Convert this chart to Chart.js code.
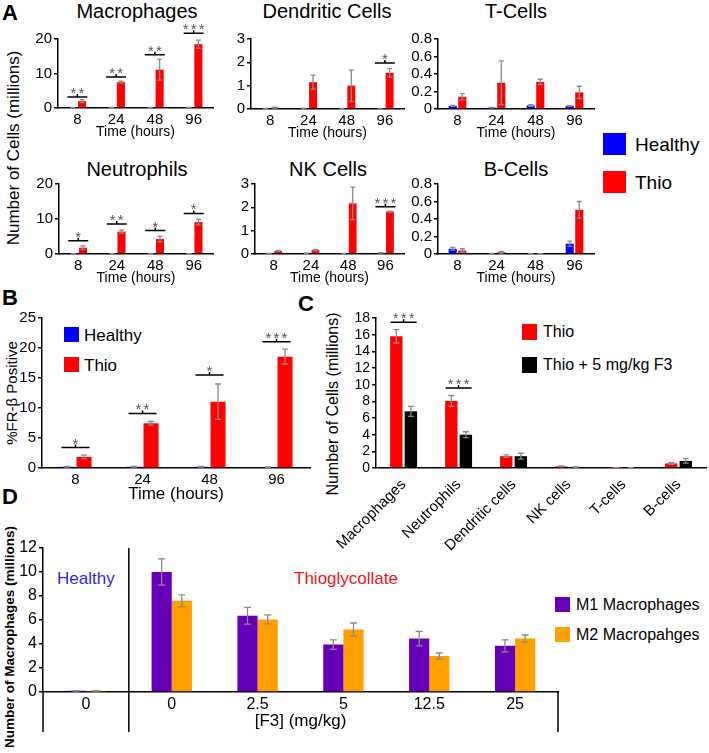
<!DOCTYPE html>
<html>
<head>
<meta charset="utf-8">
<script src="https://cdn.jsdelivr.net/npm/chart.js@4.4.0/dist/chart.umd.min.js"></script>
<style>
body { margin: 0; background: #fff; font-family: "Liberation Sans", Arial, sans-serif; }
#fig { position: relative; width: 709px; height: 753px; overflow: hidden; }
#fig canvas { position: absolute; }
.t { position: absolute; white-space: nowrap; line-height: 1; color: #000; }
.c { transform: translate(-50%, -50%); }
.l { transform: translateY(-50%); }
.v { transform: translate(-50%, -50%) rotate(-90deg); }
.b { font-weight: bold; }
.sq { position: absolute; }
</style>
</head>
<body>
<div id="fig">
  <div class="t b" style="left:2px;top:2px;font-size:22px">A</div>
  <div class="t c" style="left:137px;top:11px;font-size:20px">Macrophages</div>
  <div class="t c" style="left:327px;top:11px;font-size:20px">Dendritic Cells</div>
  <div class="t c" style="left:516px;top:11px;font-size:20px">T-Cells</div>
  <div class="t c" style="left:137px;top:169px;font-size:20px">Neutrophils</div>
  <div class="t c" style="left:328px;top:169px;font-size:20px">NK Cells</div>
  <div class="t c" style="left:516px;top:169px;font-size:20px">B-Cells</div>
  <div class="t v" style="left:13px;top:148px;font-size:17px">Number of Cells (millions)</div>
  <div class="sq" style="left:603px;top:133px;width:23px;height:22px;background:#0000ff"></div>
  <div class="t l" style="left:635px;top:144px;font-size:19px">Healthy</div>
  <div class="sq" style="left:603px;top:171px;width:23px;height:22px;background:#ff0000"></div>
  <div class="t l" style="left:635px;top:182px;font-size:19px">Thio</div>

  <div class="t b" style="left:2px;top:287px;font-size:22px">B</div>
  <div class="t v" style="left:11px;top:393px;font-size:15px">%FR-β Positive</div>
  <div class="sq" style="left:64px;top:327px;width:15px;height:15px;background:#0000ff"></div>
  <div class="t l" style="left:84px;top:335px;font-size:17px">Healthy</div>
  <div class="sq" style="left:64px;top:357px;width:15px;height:15px;background:#ff0000"></div>
  <div class="t l" style="left:84px;top:365px;font-size:17px">Thio</div>

  <div class="t b" style="left:298px;top:293px;font-size:22px">C</div>
  <div class="t v" style="left:333px;top:404px;font-size:16px">Number of Cells (millions)</div>
  <div class="sq" style="left:522px;top:324px;width:15px;height:16px;background:#ff0000"></div>
  <div class="t l" style="left:543px;top:332px;font-size:16px">Thio</div>
  <div class="sq" style="left:522px;top:357px;width:15px;height:16px;background:#000"></div>
  <div class="t l" style="left:543px;top:365px;font-size:16px">Thio + 5 mg/kg F3</div>

  <div class="t b" style="left:2px;top:486px;font-size:22px">D</div>
  <div class="t v b" style="left:10px;top:637px;font-size:13.5px">Number of Macrophages (millions)</div>
  <div class="t l" style="left:57px;top:578px;font-size:17px;color:#2a2ae6">Healthy</div>
  <div class="t c" style="left:346px;top:578px;font-size:17px;color:#e8141b">Thioglycollate</div>
  <div class="sq" style="left:555px;top:597px;width:15px;height:15px;background:#6600b8"></div>
  <div class="t l" style="left:576px;top:605px;font-size:16px">M1 Macrophages</div>
  <div class="sq" style="left:555px;top:627px;width:15px;height:15px;background:#ff9f00"></div>
  <div class="t l" style="left:576px;top:635px;font-size:16px">M2 Macropahges</div>
</div>
<script>
const timeLabels = ["8", "24", "48", "96"];

// A - macrophages
const macHealthy = [0.1, 0.1, 0.1, 0.1];
const macHealthyErr = [0.05, 0.05, 0.05, 0.05];
const macThio = [2.0, 7.5, 11.1, 18.5];
const macThioErr = [0.4, 0.3, 3.0, 1.2];
const macSig = [3.2, 9.0, 15.4, 21.7];
const macStars = ["**", "**", "**", "***"];

// A - dendritic cells
const dcHealthy = [0.02, 0.03, 0.02, 0.02];
const dcHealthyErr = [0.005, 0.005, 0.005, 0.005];
const dcThio = [0.06, 1.15, 1.0, 1.55];
const dcThioErr = [0.02, 0.3, 0.67, 0.18];
const dcSig = [null, null, null, 1.97];
const dcStars = ["", "", "", "*"];

// A - T cells
const tHealthy = [0.035, 0.015, 0.04, 0.035];
const tHealthyErr = [0.005, 0.003, 0.01, 0.004];
const tThio = [0.14, 0.3, 0.31, 0.19];
const tThioErr = [0.035, 0.25, 0.03, 0.07];

// A - neutrophils
const neuHealthy = [0.05, 0.05, 0.05, 0.05];
const neuHealthyErr = [0.02, 0.02, 0.02, 0.02];
const neuThio = [1.8, 6.4, 4.3, 9.1];
const neuThioErr = [0.5, 0.4, 0.8, 0.8];
const neuSig = [3.8, 8.6, 6.7, 11.6];
const neuStars = ["*", "**", "*", "*"];

// A - NK cells
const nkHealthy = [0.02, 0.04, 0.02, 0.05];
const nkHealthyErr = [0.005, 0.01, 0.005, 0.01];
const nkThio = [0.13, 0.17, 2.17, 1.82];
const nkThioErr = [0.02, 0.03, 0.7, 0.02];
const nkSig = [null, null, null, 2.03];
const nkStars = ["", "", "", "***"];

// A - B cells
const bHealthy = [0.06, 0.005, 0.003, 0.118];
const bHealthyErr = [0.015, 0.002, 0.002, 0.03];
const bThio = [0.04, 0.02, 0.003, 0.505];
const bThioErr = [0.02, 0.01, 0.002, 0.095];

// B - %FR-beta positive
const frHealthy = [0.2, 0.2, 0.2, 0.15];
const frHealthyErr = [0.05, 0.05, 0.05, 0.05];
const frThio = [1.85, 7.45, 11.05, 18.55];
const frThioErr = [0.3, 0.3, 2.95, 1.25];
const frSig = [3.4, 9.1, 15.5, 21.05];
const frStars = ["*", "**", "*", "***"];

// C - F3 treatment
const cellTypes = ["Macrophages", "Neutrophils", "Dendritic cells", "NK cells", "T-cells", "B-cells"];
const cThio = [15.8, 8.05, 1.42, 0.2, 0.03, 0.55];
const cThioErr = [0.8, 0.65, 0.15, 0.04, 0.01, 0.1];
const cF3 = [6.8, 4.0, 1.42, 0.12, 0.02, 0.85];
const cF3Err = [0.6, 0.35, 0.35, 0.03, 0.01, 0.27];
const cSig = [17.5, 9.6, null, null, null, null];
const cStars = ["***", "***", "", "", "", ""];

// D - M1 / M2 macrophages
const doseLabels = ["0", "0", "2.5", "5", "12.5", "25"];
const m1 = [0.1, 10.0, 6.35, 3.95, 4.45, 3.85];
const m1Err = [0.02, 1.1, 0.7, 0.4, 0.6, 0.5];
const m2 = [0.1, 7.6, 6.05, 5.2, 3.0, 4.45];
const m2Err = [0.03, 0.5, 0.38, 0.55, 0.25, 0.3];

const BLUE = "#0000ff", RED = "#ff0000", BLACK = "#000000", PURPLE = "#6600b8", ORANGE = "#ff9f00";
const FONT = '"Liberation Sans", Arial, sans-serif';

// error bars + significance brackets
const marks = {
  id: "marks",
  afterDatasetsDraw(chart, args, opts) {
    const ctx = chart.ctx, xs = chart.scales.x, ys = chart.scales.y;
    ctx.save();
    ctx.strokeStyle = "#8a8a8a";
    ctx.lineWidth = 1.3;
    chart.data.datasets.forEach((ds, di) => {
      if (!ds.err) return;
      chart.getDatasetMeta(di).data.forEach((bar, i) => {
        const e = ds.err[i];
        if (!e) return;
        const v = ds.data[i];
        const top = ys.getPixelForValue(v + e);
        const bot = ys.getPixelForValue(Math.max(v - e, 0));
        ctx.beginPath();
        ctx.moveTo(bar.x, top); ctx.lineTo(bar.x, bot);
        ctx.moveTo(bar.x - opts.cap, top); ctx.lineTo(bar.x + opts.cap, top);
        ctx.moveTo(bar.x - opts.cap, bot); ctx.lineTo(bar.x + opts.cap, bot);
        ctx.stroke();
      });
    });
    (opts.sig || []).forEach((lvl, i) => {
      if (lvl == null) return;
      const cx = xs.getPixelForValue(i), py = ys.getPixelForValue(lvl);
      ctx.strokeStyle = "#000";
      ctx.lineWidth = 1.5;
      ctx.beginPath();
      ctx.moveTo(cx - opts.half, py); ctx.lineTo(cx + opts.half, py);
      ctx.moveTo(cx, py); ctx.lineTo(cx, py - 3);
      ctx.stroke();
      const s = opts.stars[i];
      ctx.fillStyle = "#555";
      ctx.font = opts.starSize + "px " + FONT;
      ctx.textAlign = "center";
      ctx.textBaseline = "alphabetic";
      for (let k = 0; k < s.length; k++) {
        ctx.fillText("*", cx + (k - (s.length - 1) / 2) * opts.starGap, py + 1);
      }
    });
    ctx.restore();
  }
};

// extra frame lines for panel D
const split = {
  id: "split",
  afterDraw(chart, args, opts) {
    if (!opts.drop) return;
    const ctx = chart.ctx, xs = chart.scales.x, ys = chart.scales.y;
    const xd = (xs.getPixelForValue(0) + xs.getPixelForValue(1)) / 2;
    const bottom = ys.bottom + opts.drop;
    ctx.save();
    ctx.strokeStyle = "#000";
    ctx.lineWidth = 1.5;
    ctx.beginPath();
    ctx.moveTo(xd, ys.top); ctx.lineTo(xd, bottom);
    ctx.moveTo(xs.left, ys.bottom); ctx.lineTo(xs.left, bottom);
    ctx.moveTo(xs.right, ys.bottom); ctx.lineTo(xs.right, bottom);
    ctx.stroke();
    ctx.restore();
  }
};

function barChart(box, o) {
  const [x0, yTop, x1, yBase] = box;
  const padT = 28, padR = 2;
  const w = x1 - x0 + o.yW + padR, h = yBase - yTop + padT + o.xH;
  const cv = document.createElement("canvas");
  cv.width = w; cv.height = h;
  cv.style.left = (x0 - o.yW) + "px";
  cv.style.top = (yTop - padT) + "px";
  cv.style.width = w + "px"; cv.style.height = h + "px";
  document.getElementById("fig").appendChild(cv);
  return new Chart(cv, {
    type: "bar",
    data: {
      labels: o.labels,
      datasets: o.sets.map(s => ({
        data: s.data, err: s.err, backgroundColor: s.color, borderWidth: 0,
        categoryPercentage: o.cat, barPercentage: o.bar
      }))
    },
    options: {
      responsive: false,
      animation: false,
      devicePixelRatio: 1,
      layout: { padding: { top: padT, right: padR, left: 0, bottom: 0 } },
      plugins: {
        legend: { display: false },
        tooltip: { enabled: false },
        marks: { cap: o.cap, sig: o.sig, stars: o.stars, half: o.half, starSize: o.starSize || 15, starGap: o.starGap || 8 },
        split: { drop: o.drop || 0 }
      },
      scales: {
        x: {
          offset: true,
          grid: { display: false, drawTicks: false },
          border: { color: "#000", width: 1.5 },
          ticks: {
            color: "#000", font: { family: FONT, size: o.xSize }, padding: o.xPad || 3,
            autoSkip: false, minRotation: o.rot || 0, maxRotation: o.rot || 0
          },
          title: {
            display: !!o.xTitle, text: o.xTitle, color: "#000",
            font: { family: FONT, size: o.xTitleSize }, padding: 0
          },
          afterFit(s) { s.height = o.xH; }
        },
        y: {
          min: 0, max: o.max,
          grid: { drawOnChartArea: false, drawTicks: true, tickLength: 4, color: "#000", lineWidth: 1.5 },
          border: { color: "#000", width: 1.5 },
          ticks: { stepSize: o.step, autoSkip: false, color: "#000", font: { family: FONT, size: o.ySize }, padding: 2 },
          afterFit(s) { s.width = o.yW; }
        }
      }
    },
    plugins: [marks, split]
  });
}

function panelA(box, healthy, healthyErr, thio, thioErr, max, step, yW, sig, stars) {
  return barChart(box, {
    labels: timeLabels,
    sets: [
      { data: healthy, err: healthyErr, color: BLUE },
      { data: thio, err: thioErr, color: RED }
    ],
    max: max, step: step, yW: yW, xH: 33, cat: 0.49, bar: 0.85, cap: 2.5,
    xSize: 15, ySize: 15, xTitle: "Time (hours)", xTitleSize: 14,
    sig: sig, stars: stars, half: 10, starSize: 15, starGap: 8
  });
}

panelA([58, 39, 213, 108], macHealthy, macHealthyErr, macThio, macThioErr, 20, 10, 30, macSig, macStars);
panelA([251, 39, 404, 109], dcHealthy, dcHealthyErr, dcThio, dcThioErr, 3, 1, 24, dcSig, dcStars);
panelA([438, 39, 594, 109], tHealthy, tHealthyErr, tThio, tThioErr, 0.8, 0.2, 34, null, null);
panelA([59, 184, 213, 254], neuHealthy, neuHealthyErr, neuThio, neuThioErr, 20, 10, 30, neuSig, neuStars);
panelA([255, 184, 404, 254], nkHealthy, nkHealthyErr, nkThio, nkThioErr, 3, 1, 24, nkSig, nkStars);
panelA([438, 184, 594, 254], bHealthy, bHealthyErr, bThio, bThioErr, 0.8, 0.2, 34, null, null);

// B
barChart([42, 318, 310, 468], {
  labels: timeLabels,
  sets: [
    { data: frHealthy, err: frHealthyErr, color: BLUE },
    { data: frThio, err: frThioErr, color: RED }
  ],
  max: 25, step: 5, yW: 26, xH: 37, cat: 0.51, bar: 0.88, cap: 3,
  xSize: 15, ySize: 15, xTitle: "Time (hours)", xTitleSize: 17,
  sig: frSig, stars: frStars, half: 14, starSize: 15, starGap: 8
});

// C
barChart([368, 318, 706, 468], {
  labels: cellTypes,
  sets: [
    { data: cThio, err: cThioErr, color: RED },
    { data: cF3, err: cF3Err, color: BLACK }
  ],
  max: 18, step: 2, yW: 40, xH: 85, cat: 0.53, bar: 0.85, cap: 3,
  xSize: 15, ySize: 14, rot: 45, xPad: 8,
  sig: cSig, stars: cStars, half: 13, starSize: 14, starGap: 8
});

// D
barChart([43, 548, 558, 692], {
  labels: doseLabels,
  sets: [
    { data: m1, err: m1Err, color: PURPLE },
    { data: m2, err: m2Err, color: ORANGE }
  ],
  max: 12, step: 2, yW: 30, xH: 40, cat: 0.47, bar: 1.0, cap: 3.5,
  xSize: 16, ySize: 16, xTitle: "[F3] (mg/kg)", xTitleSize: 17,
  sig: null, stars: null, half: 0, drop: 40
});
</script>
</body>
</html>
